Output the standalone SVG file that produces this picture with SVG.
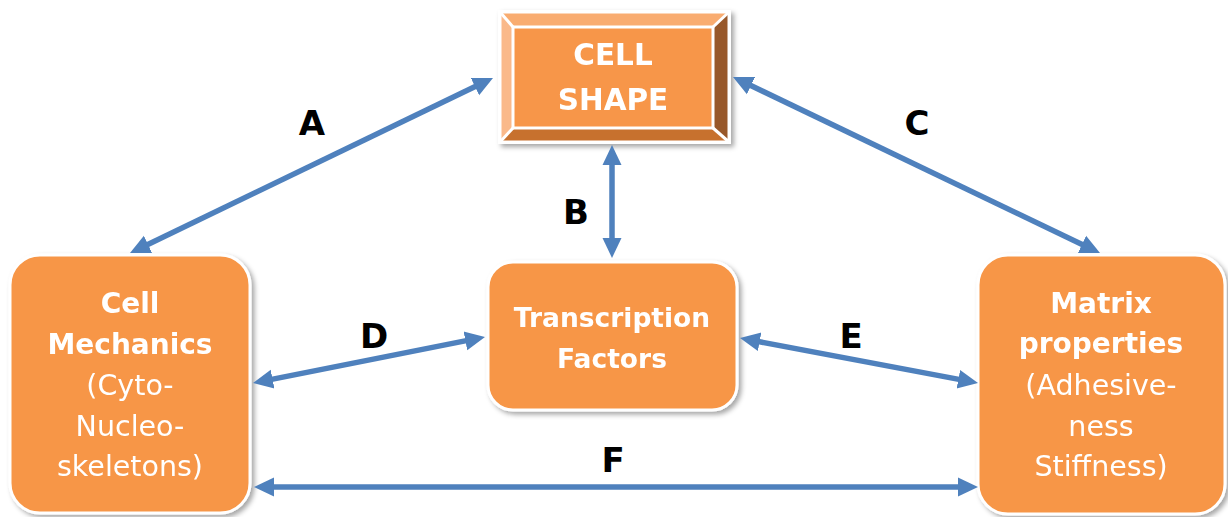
<svg xmlns="http://www.w3.org/2000/svg" width="1228" height="517" viewBox="0 0 1228 517">
<defs>
<style>
.box{fill:#F79646;stroke:#FFFFFF;stroke-width:3;}
.nt{font-family:"DejaVu Sans",sans-serif;fill:#FFFFFF;text-anchor:middle;}
.b{font-weight:bold;}
.lbl{font-family:"DejaVu Sans",sans-serif;font-weight:bold;font-size:34px;fill:#000000;text-anchor:middle;}
.con{stroke:#4F81BD;stroke-width:5.5;fill:none;marker-start:url(#ah);marker-end:url(#ah);}
</style>
<filter id="sh" x="-10%" y="-10%" width="125%" height="125%">
<feDropShadow dx="3" dy="3" stdDeviation="2.5" flood-color="#000000" flood-opacity="0.35"/>
</filter>
<marker id="ah" markerUnits="userSpaceOnUse" markerWidth="22" markerHeight="22" viewBox="0 0 22 22" refX="10" refY="11" orient="auto-start-reverse">
<path d="M0,1.5 L20,11 L0,20.5 Z" fill="#4F81BD"/>
</marker>
</defs>
<rect width="1228" height="517" fill="#FFFFFF"/>

<g id="cell-shape" filter="url(#sh)">
<rect x="500" y="12" width="229" height="130" fill="#FFFFFF" stroke="#FFFFFF" stroke-width="4"/>
<polygon points="500,12 729,12 713,27 513,27" fill="#F9AC70"/>
<polygon points="500,12 513,27 513,128 500,142" fill="#FAB98A"/>
<polygon points="729,12 729,142 713,128 713,27" fill="#98582A"/>
<polygon points="500,142 513,128 713,128 729,142" fill="#C7712F"/>
<rect x="513" y="27" width="200" height="101" fill="#F7964A"/>
<g stroke="#FFFFFF" stroke-width="3" fill="none">
<rect x="500" y="12" width="229" height="130"/>
<rect x="513" y="27" width="200" height="101"/>
<line x1="500" y1="12" x2="513" y2="27"/>
<line x1="729" y1="12" x2="713" y2="27"/>
<line x1="500" y1="142" x2="513" y2="128"/>
<line x1="729" y1="142" x2="713" y2="128"/>
</g>
<text class="nt b" x="613" y="65" font-size="29.5">CELL</text>
<text class="nt b" x="613" y="110" font-size="29.5">SHAPE</text>
</g>

<g id="cell-mechanics" filter="url(#sh)">
<rect class="box" x="10" y="255" width="240" height="258" rx="30"/>
<text class="nt b" x="130" y="313" font-size="28">Cell</text>
<text class="nt b" x="130" y="354" font-size="28">Mechanics</text>
<text class="nt" x="130" y="395" font-size="28.5">(Cyto-</text>
<text class="nt" x="130" y="436" font-size="28.5">Nucleo-</text>
<text class="nt" x="130" y="476" font-size="28.5">skeletons)</text>
</g>

<g id="transcription-factors" filter="url(#sh)">
<rect class="box" x="488" y="262" width="249" height="148" rx="25"/>
<text class="nt b" x="612" y="327" font-size="26.5">Transcription</text>
<text class="nt b" x="612" y="368" font-size="26.5">Factors</text>
</g>

<g id="matrix-properties" filter="url(#sh)">
<rect class="box" x="978" y="255" width="247" height="259" rx="30"/>
<text class="nt b" x="1101" y="313" font-size="28">Matrix</text>
<text class="nt b" x="1101" y="353" font-size="28">properties</text>
<text class="nt" x="1101" y="395" font-size="28.5">(Adhesive-</text>
<text class="nt" x="1101" y="436" font-size="28.5">ness</text>
<text class="nt" x="1101" y="476" font-size="28.5">Stiffness)</text>
</g>

<g id="connectors">
<line class="con" x1="139" y1="248.7" x2="484" y2="82.3"/>
<line class="con" x1="742" y1="81.3" x2="1091" y2="248.7"/>
<line class="con" x1="612" y1="155" x2="612" y2="248"/>
<line class="con" x1="262.8" y1="381.1" x2="475.2" y2="338.9"/>
<line class="con" x1="749.8" y1="339.9" x2="968.2" y2="381.1"/>
<line class="con" x1="264" y1="487" x2="968" y2="487"/>
<text class="lbl" x="312" y="135">A</text>
<text class="lbl" x="576" y="224">B</text>
<text class="lbl" x="917" y="135">C</text>
<text class="lbl" x="374" y="348">D</text>
<text class="lbl" x="851" y="348">E</text>
<text class="lbl" x="613" y="472">F</text>
</g>
</svg>
